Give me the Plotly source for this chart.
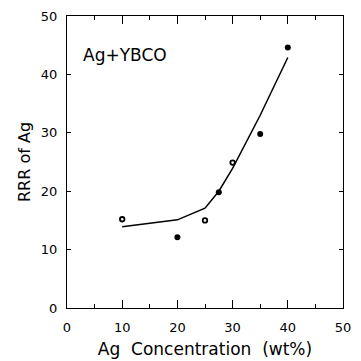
import plotly.graph_objects as go

# Data
filled_x = [20, 27.5, 35, 40]
filled_y = [12.1, 19.8, 29.8, 44.6]
open_x = [10, 25, 30]
open_y = [15.2, 15.0, 24.9]
fit_x = [10, 20, 25, 27.5, 30, 35, 40]
fit_y = [13.9, 15.1, 17.1, 20.0, 23.9, 33.0, 42.9]
tick_vals = [0, 10, 20, 30, 40, 50]
tick_text = ["0", "10", "20", "30", "40", "50"]

FONT = "DejaVu Sans, Liberation Sans, sans-serif"

fig = go.Figure()
fig.add_trace(go.Scatter(x=fit_x, y=fit_y, mode="lines",
                         line=dict(color="black", width=1.5), showlegend=False))
fig.add_trace(go.Scatter(x=filled_x, y=filled_y, mode="markers",
                         marker=dict(symbol="circle", size=6, color="black"),
                         showlegend=False))
fig.add_trace(go.Scatter(x=open_x, y=open_y, mode="markers",
                         marker=dict(symbol="circle", size=4.5, color="white",
                                     line=dict(color="black", width=1.8)),
                         showlegend=False))

fig.add_annotation(x=0.05, y=0.866, xref="paper", yref="paper",
                   text="Ag+YBCO", showarrow=False, xanchor="left", yanchor="middle",
                   font=dict(family=FONT, size=17, color="black"))

axis_common = dict(showline=True, linecolor="black", linewidth=1.3, mirror="ticks",
                   ticks="inside", tickcolor="black", showgrid=False, zeroline=False,
                   tickvals=tick_vals, ticktext=tick_text, automargin=False,
                   tickfont=dict(family=FONT, size=13, color="black"))

fig.update_xaxes(range=[0, 50], ticklen=8, tickwidth=1.2, ticklabelstandoff=7,
                 minor=dict(dtick=5, ticklen=4, ticks="inside", tickcolor="black", tickwidth=1),
                 title=dict(text="Ag  Concentration  (wt%)", standoff=9,
                            font=dict(family=FONT, size=17, color="black")),
                 **axis_common)
fig.update_yaxes(range=[0, 50], ticklen=4, tickwidth=1.2, ticklabelstandoff=6,
                 title=dict(text="RRR of Ag", standoff=6,
                            font=dict(family=FONT, size=16, color="black")),
                 **axis_common)

# page body has an 8px margin, so the figure is drawn 8px smaller
fig.update_layout(width=353, height=353, margin=dict(l=59, r=18, t=8, b=53),
                  plot_bgcolor="white", paper_bgcolor="white")

fig.write_html("out.html")
